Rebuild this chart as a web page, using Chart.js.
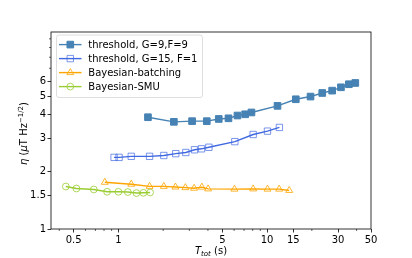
<!DOCTYPE html>
<html>
<head>
<meta charset="utf-8">
<script src="https://cdn.jsdelivr.net/npm/chart.js@4"></script>
<style>
  html, body { margin: 0; padding: 0; background: #fff; }
  #wrap { width: 412px; height: 258px; }
</style>
</head>
<body>
<div id="wrap"><canvas id="chart" width="412" height="258"></canvas></div>
<script>
// data
const thr9_x = [1.58, 2.36, 3.13, 3.93, 4.73, 5.5, 6.32, 7.12, 7.85, 11.75, 15.6, 19.6, 23.5, 27.4, 31.4, 35.5, 39.2];
const thr9_y = [3.87, 3.66, 3.69, 3.69, 3.79, 3.82, 3.95, 4.01, 4.1, 4.44, 4.81, 4.97, 5.19, 5.34, 5.56, 5.77, 5.86];

const thr15_x = [0.935, 1.01, 1.22, 1.62, 2.02, 2.43, 2.84, 3.25, 3.62, 4.06, 6.07, 8.06, 10.06, 12.1];
const thr15_y = [2.38, 2.38, 2.41, 2.41, 2.435, 2.49, 2.525, 2.61, 2.64, 2.69, 2.88, 3.14, 3.27, 3.42];

const batch_x = [0.81, 1.22, 1.62, 2.02, 2.42, 2.82, 3.23, 3.64, 4.01, 6.03, 8.06, 10.06, 12.06, 14.08];
const batch_y = [1.76, 1.72, 1.675, 1.675, 1.662, 1.65, 1.638, 1.66, 1.625, 1.62, 1.625, 1.62, 1.62, 1.595];

const smu_x = [0.443, 0.522, 0.683, 0.839, 1.0, 1.157, 1.322, 1.473, 1.634];
const smu_y = [1.673, 1.633, 1.614, 1.569, 1.569, 1.564, 1.545, 1.55, 1.556];

const labels = ["threshold, G=9,F=9", "threshold, G=15, F=1", "Bayesian-batching", "Bayesian-SMU"];

const xTicks = [0.5, 1, 5, 10, 15, 30, 50];
const xMinor = [0.4, 0.6, 0.7, 0.8, 0.9, 2, 3, 4, 6, 7, 8, 9, 20, 40];
const yTicks = [1, 1.5, 2, 3, 4, 5, 6];
const yMinor = [7, 8, 9, 10];

const FONT = "'DejaVu Sans', sans-serif";

function pts(xs, ys) {
    return xs.map((x, i) => ({x: x, y: ys[i]}));
}

const datasets = [
    {
        label: labels[0],
        data: pts(thr9_x, thr9_y),
        borderColor: "#4682b4",
        backgroundColor: "#4682b4",
        pointStyle: "rect",
        pointRadius: 4.7,
        pointBackgroundColor: "#4682b4",
        pointBorderColor: "#4682b4",
        pointBorderWidth: 1
    },
    {
        label: labels[1],
        data: pts(thr15_x, thr15_y),
        borderColor: "#4169e1",
        pointStyle: "rect",
        pointRadius: 4.5,
        pointBackgroundColor: "rgba(0,0,0,0)",
        pointBorderColor: "rgba(65,105,225,0.7)",
        pointBorderWidth: 1
    },
    {
        label: labels[2],
        data: pts(batch_x, batch_y),
        borderColor: "#ffa500",
        pointStyle: "triangle",
        pointRadius: 4,
        pointBackgroundColor: "rgba(0,0,0,0)",
        pointBorderColor: "rgba(255,165,0,0.8)",
        pointBorderWidth: 1
    },
    {
        label: labels[3],
        data: pts(smu_x, smu_y),
        borderColor: "#9acd32",
        pointStyle: "circle",
        pointRadius: 3.4,
        pointBackgroundColor: "rgba(0,0,0,0)",
        pointBorderColor: "rgba(154,205,50,0.8)",
        pointBorderWidth: 1
    }
];
datasets.forEach((d, i) => {
    d.borderWidth = 1.4;
    d.fill = false;
    d.tension = 0;
    d.order = 4 - i;
});

// frame, minor ticks, axis titles and a matplotlib-like legend
const extras = {
    id: "extras",
    afterDraw(chart) {
        const ctx = chart.ctx;
        const a = chart.chartArea;
        const xs = chart.scales.x, ys = chart.scales.y;
        ctx.save();
        ctx.strokeStyle = "#000";
        ctx.lineWidth = 0.8;
        ctx.strokeRect(a.left, a.top, a.right - a.left, a.bottom - a.top);

        ctx.beginPath();
        xMinor.forEach(v => {
            const px = xs.getPixelForValue(v);
            ctx.moveTo(px, a.bottom);
            ctx.lineTo(px, a.bottom + 2);
        });
        yMinor.forEach(v => {
            const py = ys.getPixelForValue(v);
            ctx.moveTo(a.left, py);
            ctx.lineTo(a.left - 2, py);
        });
        ctx.lineWidth = 0.6;
        ctx.stroke();

        // x title: T_tot (s)
        ctx.fillStyle = "#000";
        ctx.textBaseline = "alphabetic";
        ctx.textAlign = "left";
        const xParts = [
            {t: "T", f: "italic 10px " + FONT, dy: 0},
            {t: "tot", f: "italic 7px " + FONT, dy: 2},
            {t: " (s)", f: "10px " + FONT, dy: 0}
        ];
        let w = 0;
        xParts.forEach(p => { ctx.font = p.f; w += ctx.measureText(p.t).width; });
        let cx = (a.left + a.right) / 2 - w / 2;
        xParts.forEach(p => {
            ctx.font = p.f;
            ctx.fillText(p.t, cx, 254 + p.dy);
            cx += ctx.measureText(p.t).width;
        });

        // y title: η (μT Hz^-1/2)
        const yParts = [
            {t: "η", f: "italic 10px " + FONT, dy: 0},
            {t: " (", f: "10px " + FONT, dy: 0},
            {t: "μ", f: "italic 10px " + FONT, dy: 0},
            {t: "T Hz", f: "10px " + FONT, dy: 0},
            {t: "−1/2", f: "7px " + FONT, dy: -4},
            {t: ")", f: "10px " + FONT, dy: 0}
        ];
        w = 0;
        yParts.forEach(p => { ctx.font = p.f; w += ctx.measureText(p.t).width; });
        ctx.translate(27, (a.top + a.bottom) / 2 + 3);
        ctx.rotate(-Math.PI / 2);
        cx = -w / 2;
        yParts.forEach(p => {
            ctx.font = p.f;
            ctx.fillText(p.t, cx, 0 + p.dy);
            cx += ctx.measureText(p.t).width;
        });
        ctx.restore();

        // legend box
        ctx.save();
        const lx = 56.5, ly = 35, lw = 146, lh = 62.5, r = 2.5;
        ctx.beginPath();
        ctx.moveTo(lx + r, ly);
        ctx.arcTo(lx + lw, ly, lx + lw, ly + lh, r);
        ctx.arcTo(lx + lw, ly + lh, lx, ly + lh, r);
        ctx.arcTo(lx, ly + lh, lx, ly, r);
        ctx.arcTo(lx, ly, lx + lw, ly, r);
        ctx.closePath();
        ctx.fillStyle = "rgba(255,255,255,0.8)";
        ctx.fill();
        ctx.strokeStyle = "#d6d6d6";
        ctx.lineWidth = 0.8;
        ctx.stroke();

        chart.data.datasets.forEach((d, i) => {
            const y = 44.6 + i * 14;
            ctx.beginPath();
            ctx.moveTo(59, y);
            ctx.lineTo(81.5, y);
            ctx.strokeStyle = d.borderColor;
            ctx.lineWidth = d.borderWidth;
            ctx.stroke();
            ctx.fillStyle = d.pointBackgroundColor;
            ctx.strokeStyle = d.pointBorderColor;
            ctx.lineWidth = d.pointBorderWidth;
            Chart.helpers.drawPoint(ctx, {
                pointStyle: d.pointStyle,
                radius: d.pointRadius,
                rotation: 0,
                borderWidth: d.pointBorderWidth
            }, 70.3, y);
            ctx.fillStyle = "#000";
            ctx.font = "10px " + FONT;
            ctx.textBaseline = "middle";
            ctx.fillText(d.label, 88.3, y + 0.5);
        });
        ctx.restore();
    }
};

new Chart(document.getElementById("chart"), {
    type: "line",
    data: {datasets: datasets},
    options: {
        responsive: false,
        devicePixelRatio: 1,
        animation: false,
        layout: {padding: {top: 32, right: 41, bottom: 0, left: 0}},
        plugins: {legend: {display: false}, tooltip: {enabled: false}},
        scales: {
            x: {
                type: "logarithmic",
                min: 0.352,
                max: 50,
                afterBuildTicks: s => { s.ticks = xTicks.map(v => ({value: v})); },
                afterFit: s => { s.height = 29; },
                grid: {drawOnChartArea: false, drawTicks: true, tickLength: 3.5, color: "#000", tickWidth: 0.8},
                border: {display: false},
                ticks: {
                    font: {family: FONT, size: 10},
                    color: "#000",
                    padding: 1.5,
                    autoSkip: false,
                    maxRotation: 0,
                    callback: v => String(v)
                }
            },
            y: {
                type: "logarithmic",
                min: 1,
                max: 10.86,
                afterBuildTicks: s => { s.ticks = yTicks.map(v => ({value: v})); },
                afterFit: s => { s.width = 51; },
                grid: {drawOnChartArea: false, drawTicks: true, tickLength: 3.5, color: "#000", tickWidth: 0.8},
                border: {display: false},
                ticks: {
                    font: {family: FONT, size: 10},
                    color: "#000",
                    padding: 1.5,
                    autoSkip: false,
                    callback: v => String(v)
                }
            }
        }
    },
    plugins: [extras]
});
</script>
</body>
</html>
